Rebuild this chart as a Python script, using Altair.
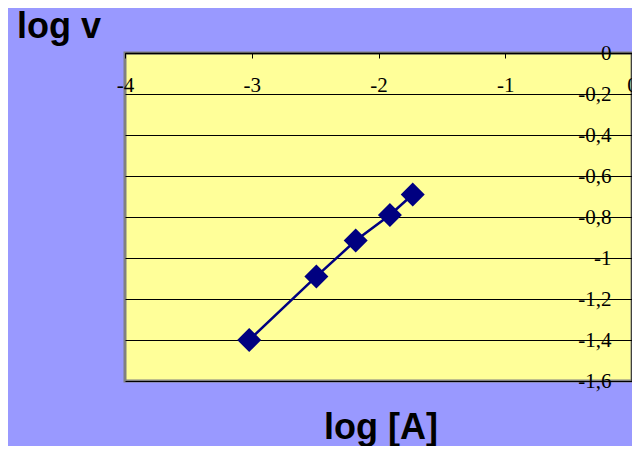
import altair as alt
import pandas as pd

# data
log_A = [-3.02, -2.49, -2.18, -1.91, -1.73]
log_v = [-1.40, -1.09, -0.915, -0.79, -0.69]

x_ticks = [-4, -3, -2, -1, 0]
y_ticks = [0, -0.2, -0.4, -0.6, -0.8, -1.0, -1.2, -1.4, -1.6]

df = pd.DataFrame({"log_A": log_A, "log_v": log_v})

PLOT_W = 507
PLOT_H = 328
NAVY = "#000080"
MINUS = "\u2212"

x_axis = alt.Axis(
    orient="bottom",
    offset=-PLOT_H,
    values=x_ticks,
    grid=False,
    domainColor="black",
    domainWidth=1.5,
    tickColor="black",
    tickSize=5,
    tickWidth=1,
    labelFont="Liberation Serif",
    labelFontSize=21,
    labelColor="black",
    labelBaseline="alphabetic",
    labelPadding=33,
    labelFlush=False,
    labelOverlap=False,
    labelExpr=f"replace(format(datum.value, 'd'), '{MINUS}', '-')",
    title="log [A]",
    titleFont="Liberation Sans",
    titleFontSize=36,
    titleFontWeight="bold",
    titleColor="black",
    titleAlign="center",
    titleBaseline="alphabetic",
    titleX=255.5,
    titleY=385,
)

y_axis = alt.Axis(
    orient="left",
    offset=-PLOT_W,
    values=y_ticks,
    grid=True,
    gridColor="black",
    gridWidth=1,
    gridOpacity=1,
    domainColor="black",
    domainWidth=2,
    tickColor="black",
    tickSize=6,
    tickWidth=1,
    labelFont="Liberation Serif",
    labelFontSize=21,
    labelColor="black",
    labelPadding=15,
    labelFlush=False,
    labelOverlap=False,
    labelExpr=f"replace(replace(format(datum.value, '.1~f'), '.', ','), '{MINUS}', '-')",
    title="log v",
    titleFont="Liberation Sans",
    titleFontSize=36,
    titleFontWeight="bold",
    titleColor="black",
    titleAngle=0,
    titleAlign="left",
    titleBaseline="alphabetic",
    titleX=-615.5,
    titleY=-16,
)

base = alt.Chart(df).encode(
    x=alt.X("log_A:Q", scale=alt.Scale(domain=[-4, 0], nice=False, zero=False), axis=x_axis),
    y=alt.Y("log_v:Q", scale=alt.Scale(domain=[-1.6, 0], nice=False, zero=False), axis=y_axis),
)

line = base.mark_line(color=NAVY, strokeWidth=2.5)
points = base.mark_point(shape="diamond", filled=True, size=576, color=NAVY, opacity=1)

chart = (
    alt.layer(line, points)
    .properties(
        width=PLOT_W,
        height=PLOT_H,
        background="#9999FF",
        padding={"left": 117, "top": 45, "right": 0, "bottom": 65},
        autosize=alt.AutoSizeParams(type="none"),
    )
    .configure_view(fill="#FFFF99", stroke="#808080", strokeWidth=3)
)

chart.save("out.html", embed_options={"renderer": "svg", "actions": False})
